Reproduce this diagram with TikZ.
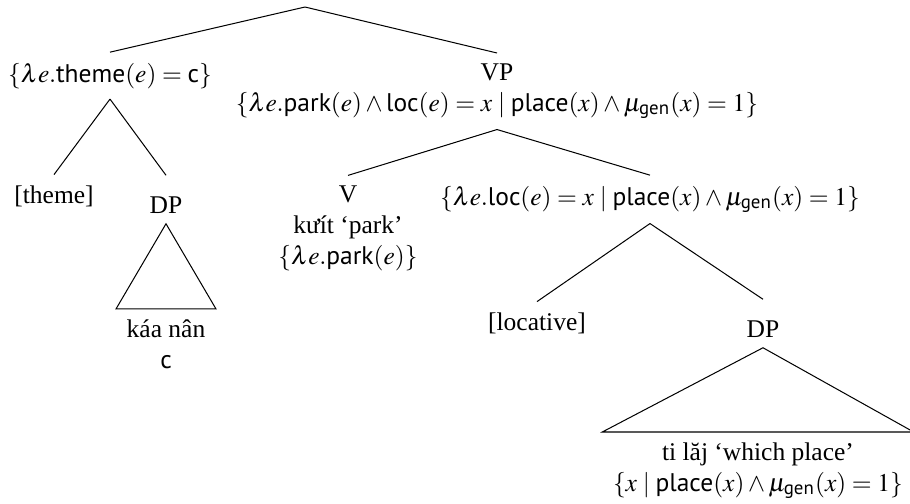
\documentclass[tikz,border=0pt]{standalone}
\usepackage{amsmath}
\usepackage{mathptmx}
\usepackage[no-math]{fontspec}
\setmainfont{Liberation Serif}
\setsansfont{PT Sans}
\usetikzlibrary{positioning}
\newcommand{\fn}[1]{\textsf{#1}}

\begin{document}
\begin{tikzpicture}[
    x=0.3922pt, y=-0.3922pt,
    tnode/.style={align=center, inner xsep=0pt, inner ysep=4pt, anchor=base},
    roofdp/.style={tnode, text height=10.6pt},
    roofleaf/.style={align=center, inner xsep=4pt, inner ysep=4pt, anchor=base}
]
\useasboundingbox (0,0) rectangle (910,504);
\coordinate (root) at (305,7);
% left branch (multi-line nodes sit on their last line)
\node[tnode] (thm) at (110,82) {$\{\lambda e.\fn{theme}(e)=\fn{c}\}$};
\node[tnode] (theme) at (54,203) {[theme]};
\node[roofdp] (dpl) at (166,213) {DP};
\node[roofleaf] (roofl) at (166,368) {káa nân\\ \fn{c}};
% right branch
\node[tnode] (vp) at (497,111) {VP\\ $\{\lambda e.\fn{park}(e)\wedge\fn{loc}(e)=x\mid\fn{place}(x)\wedge\mu_{\fn{gen}}(x)=1\}$};
\node[tnode] (v) at (348,264) {V\\ kưít ‘park’\\ $\{\lambda e.\fn{park}(e)\}$};
\node[tnode] (loc) at (650,205) {$\{\lambda e.\fn{loc}(e)=x\mid\fn{place}(x)\wedge\mu_{\fn{gen}}(x)=1\}$};
\node[tnode] (locative) at (537,330) {[locative]};
\node[roofdp] (dpr) at (763,337) {DP};
\node[roofleaf] (roofr) at (758,491) {ti lăj ‘which place’\\ $\{x\mid\fn{place}(x)\wedge\mu_{\fn{gen}}(x)=1\}$};
% branches
\draw (root) -- (thm.north);
\draw (root) -- (vp.north);
\draw (thm.south) -- (theme.north);
\draw (thm.south) -- (dpl.north);
\draw (dpl.south) -- (roofl.north west) -- (roofl.north east) -- cycle;
\draw (vp.south) -- (v.north);
\draw (vp.south) -- (loc.north);
\draw (loc.south) -- (locative.north);
\draw (loc.south) -- (dpr.north);
\draw (dpr.south) -- (roofr.north west) -- (roofr.north east) -- cycle;
\end{tikzpicture}
\end{document}
